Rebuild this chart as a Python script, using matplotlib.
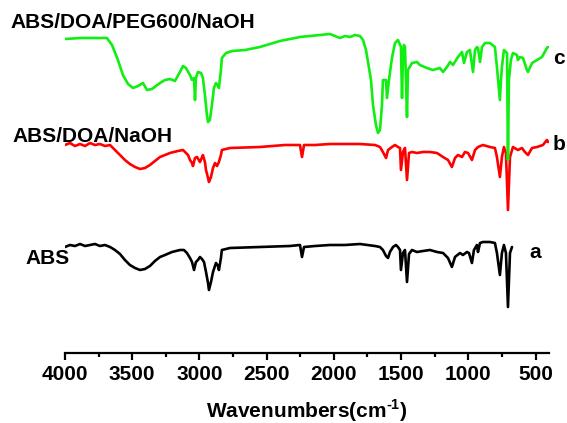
import matplotlib
matplotlib.use("Agg")
import matplotlib.pyplot as plt
from matplotlib.ticker import MultipleLocator

plt.rcParams['font.family'] = ['Liberation Sans', 'DejaVu Sans']
plt.rcParams['font.weight'] = 'bold'
plt.rcParams['mathtext.fontset'] = 'custom'
plt.rcParams['mathtext.rm'] = 'Liberation Sans:bold'
plt.rcParams['mathtext.bf'] = 'Liberation Sans:bold'

# c: ABS/DOA/PEG600/NaOH (green)
wn_c = [4000, 3888, 3777, 3688, 3650, 3606, 3569, 3531, 3494, 3457,
        3420, 3390, 3353, 3293, 3256, 3219, 3182, 3145, 3122, 3100,
        3070, 3055, 3040, 3033, 3026, 3011, 2988, 2974, 2959, 2944,
        2936, 2922, 2907, 2892, 2877, 2862, 2855, 2840, 2833, 2802,
        2758, 2661, 2550, 2401, 2252, 2029, 1955, 1917, 1880, 1843,
        1806, 1783, 1761, 1746, 1724, 1709, 1687, 1672, 1657, 1642,
        1635, 1612, 1605, 1590, 1568, 1545, 1523, 1501, 1493, 1486,
        1479, 1471, 1456, 1449, 1419, 1382, 1360, 1307, 1263, 1211,
        1188, 1159, 1136, 1114, 1077, 1047, 1032, 1010, 988, 965,
        950, 936, 928, 913, 898, 876, 839, 802, 787, 765,
        757, 750, 735, 712, 705, 698, 683, 668, 638, 631,
        616, 593, 564, 556, 526, 489, 452, 415, 407]
t_c = [314, 315, 315, 315, 308, 293, 278, 269, 265, 267,
       270, 263, 264, 270, 273, 274, 272, 281, 287, 285,
       278, 273, 275, 253, 275, 281, 280, 275, 258, 238,
       231, 233, 248, 265, 270, 267, 265, 283, 295, 300,
       302, 303, 306, 312, 316, 319, 315, 317, 316, 318,
       317, 313, 303, 291, 273, 248, 228, 220, 223, 248,
       273, 273, 255, 273, 295, 310, 313, 306, 255, 298,
       308, 306, 236, 283, 290, 291, 288, 285, 283, 285,
       281, 286, 291, 288, 296, 301, 290, 301, 303, 281,
       303, 306, 305, 291, 306, 310, 310, 306, 286, 253,
       273, 286, 303, 300, 193, 273, 293, 300, 298, 293,
       296, 295, 283, 281, 290, 293, 296, 305, 306]

# b: ABS/DOA/NaOH (red)
wn_b = [4000, 3963, 3926, 3888, 3851, 3814, 3777, 3740, 3702, 3665,
        3628, 3591, 3554, 3517, 3479, 3442, 3405, 3368, 3331, 3293,
        3219, 3160, 3122, 3085, 3070, 3055, 3048, 3033, 3018, 2996,
        2974, 2959, 2951, 2936, 2929, 2914, 2899, 2884, 2869, 2855,
        2840, 2833, 2773, 2550, 2364, 2252, 2237, 2222, 2140, 2029,
        1917, 1806, 1694, 1657, 1635, 1612, 1597, 1568, 1545, 1523,
        1508, 1501, 1486, 1471, 1456, 1441, 1419, 1382, 1337, 1285,
        1233, 1188, 1151, 1122, 1099, 1077, 1047, 1025, 1002, 973,
        950, 928, 891, 839, 802, 787, 765, 750, 735, 720,
        705, 690, 668, 631, 601, 579, 556, 526, 489, 445,
        415, 407]
t_b = [208, 210, 207, 209, 207, 210, 208, 209, 207, 208,
       203, 198, 193, 189, 186, 184, 185, 188, 192, 196,
       200, 202, 203, 198, 193, 190, 187, 195, 196, 191,
       198, 191, 183, 175, 171, 176, 185, 190, 187, 191,
       198, 203, 205, 206, 208, 208, 196, 208, 208, 209,
       209, 209, 208, 206, 201, 195, 203, 206, 208, 206,
       205, 183, 201, 205, 173, 200, 201, 200, 201, 201,
       200, 196, 193, 186, 195, 198, 196, 201, 200, 193,
       203, 206, 208, 206, 205, 196, 176, 196, 206, 200,
       143, 196, 206, 203, 205, 201, 198, 205, 206, 208,
       213, 211]

# a: ABS (black)
wn_a = [4000, 3963, 3926, 3888, 3851, 3814, 3777, 3740, 3702, 3665,
        3628, 3591, 3554, 3517, 3479, 3442, 3405, 3368, 3331, 3293,
        3256, 3204, 3145, 3115, 3093, 3070, 3055, 3040, 3026, 3011,
        2996, 2981, 2966, 2951, 2936, 2929, 2914, 2899, 2877, 2862,
        2855, 2840, 2833, 2773, 2550, 2327, 2252, 2237, 2222, 2140,
        2029, 1917, 1806, 1694, 1657, 1635, 1612, 1597, 1583, 1560,
        1538, 1523, 1508, 1501, 1486, 1471, 1456, 1441, 1419, 1382,
        1337, 1285, 1233, 1188, 1151, 1122, 1099, 1062, 1040, 1010,
        995, 973, 958, 936, 928, 913, 891, 839, 802, 787,
        765, 750, 735, 720, 705, 690, 675]
t_a = [106, 108, 107, 109, 107, 108, 109, 107, 108, 106,
       103, 99, 93, 88, 85, 83, 84, 87, 92, 96,
       98, 101, 103, 103, 100, 95, 91, 83, 91, 93,
       96, 94, 91, 81, 70, 63, 71, 81, 90, 87,
       83, 95, 103, 105, 106, 107, 108, 96, 106, 107,
       108, 108, 109, 107, 106, 103, 97, 95, 101, 106,
       108, 106, 103, 83, 100, 103, 71, 99, 103, 101,
       102, 103, 101, 100, 95, 86, 96, 100, 98, 101,
       100, 90, 103, 108, 101, 110, 111, 111, 110, 100,
       78, 100, 108, 100, 46, 100, 106]

fig = plt.figure(figsize=(5.67, 4.23), dpi=100)
ax = fig.add_axes([0.1146, 0.1655, 0.8536, 0.7872])

style = dict(lw=1.9, solid_joinstyle='round', solid_capstyle='round')
ax.plot(wn_a, t_a, color='black', **style)
ax.plot(wn_b, t_b, color='#ff0000', **style)
ax.plot(wn_c, t_c, color='#11ee11', **style)

ax.set_xlim(4000, 400)
ax.set_ylim(0, 333)
for s in ['top', 'right', 'left']:
    ax.spines[s].set_visible(False)
ax.spines['bottom'].set_linewidth(1.6)
ax.set_yticks([])
ax.xaxis.set_major_locator(MultipleLocator(500))
ax.xaxis.set_minor_locator(MultipleLocator(250))
ax.tick_params(axis='x', which='major', length=5, width=1.6, labelsize=15, pad=4)
ax.tick_params(axis='x', which='minor', length=3, width=1.6)
for lbl in ax.get_xticklabels():
    lbl.set_fontweight('bold')
ax.set_xlabel(r'Wavenumbers(cm$^{\text{-1}}$)', fontsize=15, fontweight='bold', labelpad=9)

fig.text(10 / 567, 1 - 22 / 423, 'ABS/DOA/PEG600/NaOH', fontsize=15, fontweight='bold', va='center')
fig.text(12 / 567, 1 - 137 / 423, 'ABS/DOA/NaOH', fontsize=15, fontweight='bold', va='center')
fig.text(25 / 567, 1 - 258 / 423, 'ABS', fontsize=15, fontweight='bold', va='center')
fig.text(553 / 567, 1 - 58 / 423, 'c', fontsize=15, fontweight='bold', va='center')
fig.text(553 / 567, 1 - 145 / 423, 'b', fontsize=15, fontweight='bold', va='center')
fig.text(529 / 567, 1 - 253 / 423, 'a', fontsize=15, fontweight='bold', va='center')

fig.savefig('out.png', dpi=100)
